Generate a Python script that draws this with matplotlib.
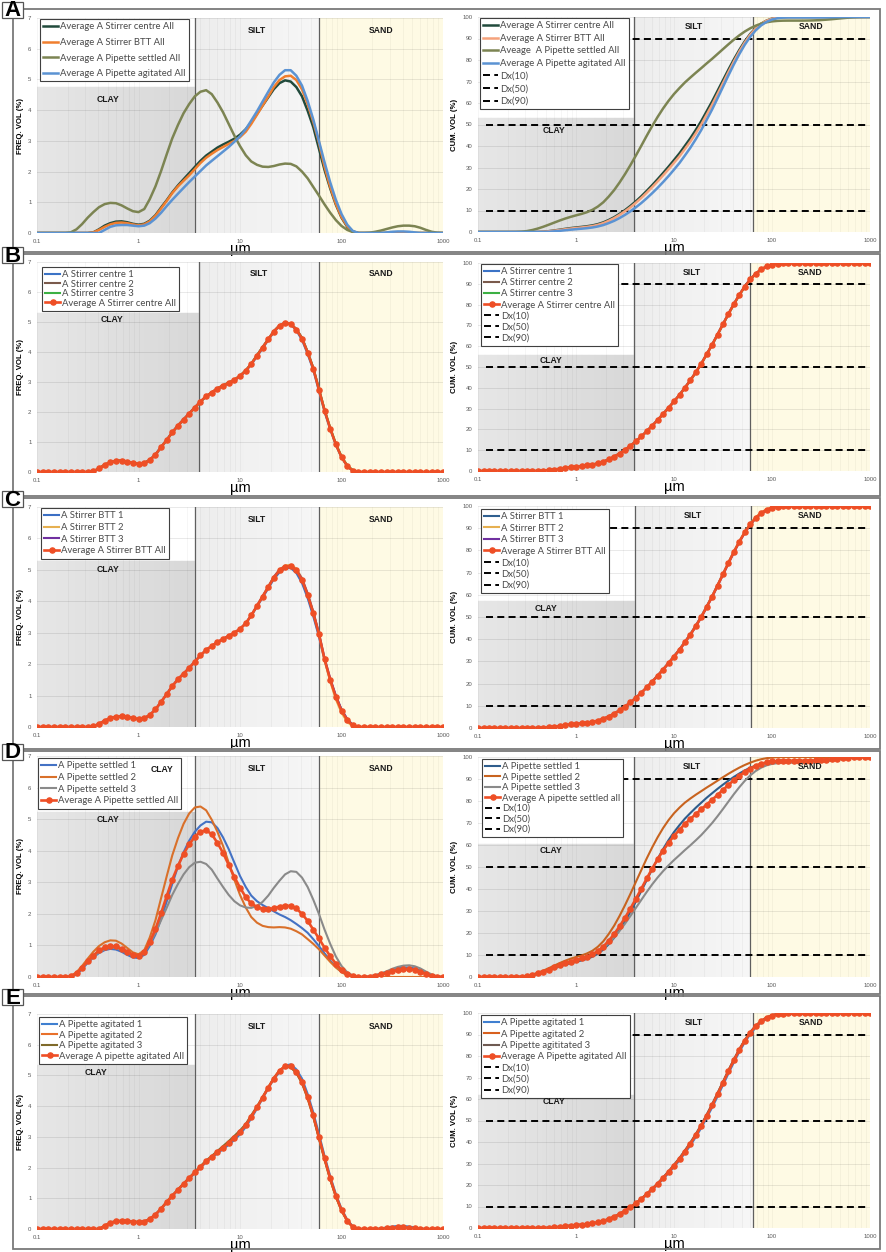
import numpy as np
import matplotlib
matplotlib.use("Agg")
import matplotlib.pyplot as plt
from matplotlib.patches import Rectangle
from matplotlib.ticker import LogLocator, NullFormatter
from matplotlib.colors import to_rgb

W, H = 886, 1252
plt.rcParams['font.family'] = ['Liberation Sans', 'DejaVu Sans']

# particle size bins (um)
size_um = [0.100, 0.114, 0.129, 0.147, 0.167, 0.190, 0.215, 0.245, 0.278, 0.316,
           0.359, 0.408, 0.464, 0.527, 0.599, 0.681, 0.774, 0.880, 1.00, 1.14,
           1.29, 1.47, 1.67, 1.90, 2.15, 2.45, 2.78, 3.16, 3.59, 4.08,
           4.64, 5.27, 5.99, 6.81, 7.74, 8.80, 10.0, 11.4, 12.9, 14.7,
           16.7, 19.0, 21.5, 24.5, 27.8, 31.6, 35.9, 40.8, 46.4, 52.7,
           59.9, 68.1, 77.4, 88.0, 100, 114, 129, 147, 167, 190,
           215, 245, 278, 316, 359, 408, 464, 527, 599, 681,
           774, 880, 1000]
dx_levels = [10, 50, 90]
dx_labels = ["Dx(10)", "Dx(50)", "Dx(90)"]

# frequency volume (%) per bin
stirrer_centre_1 = [0, 0, 0, 0, 0, 0, 0, 0, 0, 0,
                    0.02, 0.11, 0.23, 0.31, 0.36, 0.37, 0.35, 0.30, 0.27, 0.30,
                    0.41, 0.59, 0.84, 1.08, 1.33, 1.56, 1.76, 1.96, 2.16, 2.35,
                    2.51, 2.64, 2.76, 2.86, 2.95, 3.05, 3.18, 3.36, 3.58, 3.85,
                    4.12, 4.40, 4.66, 4.87, 4.97, 4.92, 4.72, 4.40, 3.93, 3.40,
                    2.70, 2.00, 1.42, 0.90, 0.49, 0.19, 0.04, 0, 0, 0,
                    0, 0, 0, 0, 0, 0, 0, 0, 0, 0, 0, 0, 0]
stirrer_centre_2 = [0, 0, 0, 0, 0, 0, 0, 0, 0, 0,
                    0.02, 0.12, 0.24, 0.32, 0.37, 0.38, 0.35, 0.30, 0.27, 0.29,
                    0.39, 0.57, 0.82, 1.06, 1.31, 1.54, 1.74, 1.95, 2.15, 2.35,
                    2.53, 2.66, 2.79, 2.89, 2.98, 3.08, 3.21, 3.39, 3.61, 3.89,
                    4.17, 4.44, 4.70, 4.89, 4.98, 4.94, 4.77, 4.48, 4.01, 3.48,
                    2.78, 2.07, 1.46, 0.92, 0.50, 0.19, 0.04, 0, 0, 0,
                    0, 0, 0, 0, 0, 0, 0, 0, 0, 0, 0, 0, 0]
stirrer_centre_3 = [0, 0, 0, 0, 0, 0, 0, 0, 0, 0,
                    0.02, 0.13, 0.25, 0.33, 0.38, 0.39, 0.35, 0.30, 0.27, 0.31,
                    0.40, 0.58, 0.83, 1.07, 1.32, 1.55, 1.75, 1.94, 2.14, 2.34,
                    2.52, 2.65, 2.79, 2.89, 2.98, 3.08, 3.21, 3.39, 3.61, 3.90,
                    4.16, 4.42, 4.68, 4.88, 4.96, 4.93, 4.76, 4.47, 4.00, 3.47,
                    2.77, 2.08, 1.48, 0.95, 0.53, 0.22, 0.07, 0, 0, 0,
                    0, 0, 0, 0, 0, 0, 0, 0, 0, 0, 0, 0, 0]
stirrer_centre_avg = [0, 0, 0, 0, 0, 0, 0, 0, 0, 0,
                      0.02, 0.12, 0.24, 0.32, 0.37, 0.38, 0.35, 0.30, 0.27, 0.30,
                      0.40, 0.58, 0.83, 1.07, 1.32, 1.55, 1.75, 1.95, 2.15, 2.35,
                      2.52, 2.65, 2.78, 2.88, 2.97, 3.07, 3.20, 3.38, 3.60, 3.88,
                      4.15, 4.42, 4.68, 4.88, 4.97, 4.93, 4.75, 4.45, 3.98, 3.45,
                      2.75, 2.05, 1.45, 0.92, 0.50, 0.20, 0.05, 0, 0, 0,
                      0, 0, 0, 0, 0, 0, 0, 0, 0, 0, 0, 0, 0]

btt_1 = [0, 0, 0, 0, 0, 0, 0, 0, 0, 0,
         0.02, 0.10, 0.20, 0.28, 0.33, 0.34, 0.32, 0.28, 0.25, 0.28,
         0.38, 0.56, 0.80, 1.05, 1.30, 1.52, 1.70, 1.88, 2.08, 2.28,
         2.45, 2.58, 2.70, 2.80, 2.90, 3.00, 3.12, 3.30, 3.54, 3.83,
         4.12, 4.41, 4.70, 4.92, 5.05, 5.06, 4.90, 4.58, 4.10, 3.52,
         2.88, 2.12, 1.50, 0.98, 0.56, 0.25, 0.07, 0, 0, 0,
         0, 0, 0, 0, 0, 0, 0, 0, 0, 0, 0, 0, 0]
btt_2 = [0, 0, 0, 0, 0, 0, 0, 0, 0, 0,
         0.02, 0.10, 0.20, 0.28, 0.33, 0.34, 0.32, 0.28, 0.25, 0.28,
         0.38, 0.56, 0.80, 1.05, 1.30, 1.52, 1.70, 1.88, 2.08, 2.28,
         2.45, 2.58, 2.70, 2.80, 2.90, 3.00, 3.12, 3.30, 3.56, 3.86,
         4.17, 4.48, 4.78, 5.01, 5.14, 5.16, 5.04, 4.74, 4.26, 3.68,
         2.98, 2.14, 1.45, 0.88, 0.45, 0.16, 0.02, 0, 0, 0,
         0, 0, 0, 0, 0, 0, 0, 0, 0, 0, 0, 0, 0]
btt_3 = [0, 0, 0, 0, 0, 0, 0, 0, 0, 0,
         0.02, 0.10, 0.20, 0.28, 0.33, 0.34, 0.32, 0.28, 0.25, 0.28,
         0.38, 0.56, 0.80, 1.05, 1.30, 1.52, 1.70, 1.88, 2.08, 2.28,
         2.45, 2.58, 2.70, 2.80, 2.90, 3.00, 3.12, 3.30, 3.55, 3.86,
         4.16, 4.46, 4.77, 5.00, 5.11, 5.13, 5.00, 4.72, 4.24, 3.66,
         2.99, 2.19, 1.55, 1.00, 0.55, 0.25, 0.06, 0, 0, 0,
         0, 0, 0, 0, 0, 0, 0, 0, 0, 0, 0, 0, 0]
btt_avg = [0, 0, 0, 0, 0, 0, 0, 0, 0, 0,
           0.02, 0.10, 0.20, 0.28, 0.33, 0.34, 0.32, 0.28, 0.25, 0.28,
           0.38, 0.56, 0.80, 1.05, 1.30, 1.52, 1.70, 1.88, 2.08, 2.28,
           2.45, 2.58, 2.70, 2.80, 2.90, 3.00, 3.12, 3.30, 3.55, 3.85,
           4.15, 4.45, 4.75, 4.98, 5.10, 5.12, 4.98, 4.68, 4.20, 3.62,
           2.95, 2.15, 1.50, 0.95, 0.52, 0.22, 0.05, 0, 0, 0,
           0, 0, 0, 0, 0, 0, 0, 0, 0, 0, 0, 0, 0]

settled_1 = [0, 0, 0, 0, 0, 0, 0, 0.08, 0.25, 0.45,
             0.62, 0.76, 0.85, 0.89, 0.87, 0.80, 0.70, 0.62, 0.60, 0.70,
             0.98, 1.35, 1.85, 2.40, 2.95, 3.50, 3.95, 4.32, 4.60, 4.80,
             4.92, 4.90, 4.72, 4.42, 4.05, 3.62, 3.20, 2.85, 2.58, 2.40,
             2.28, 2.18, 2.08, 1.98, 1.90, 1.80, 1.68, 1.55, 1.40, 1.20,
             0.98, 0.75, 0.52, 0.32, 0.16, 0.06, 0.01, 0, 0, 0.02,
             0.05, 0.10, 0.16, 0.22, 0.27, 0.30, 0.30, 0.27, 0.20, 0.12,
             0.05, 0.01, 0]
settled_2 = [0, 0, 0, 0, 0, 0, 0.03, 0.15, 0.35, 0.58,
             0.80, 0.98, 1.10, 1.16, 1.15, 1.06, 0.92, 0.78, 0.72, 0.85,
             1.25, 1.80, 2.50, 3.20, 3.85, 4.40, 4.85, 5.18, 5.37, 5.40,
             5.28, 4.98, 4.60, 4.15, 3.62, 3.08, 2.60, 2.20, 1.90, 1.72,
             1.62, 1.58, 1.57, 1.58, 1.57, 1.53, 1.45, 1.35, 1.20, 1.05,
             0.88, 0.68, 0.48, 0.30, 0.16, 0.06, 0.01, 0, 0, 0,
             0, 0, 0, 0, 0, 0, 0, 0, 0, 0, 0, 0, 0]
settled_3 = [0, 0, 0, 0, 0, 0, 0.02, 0.12, 0.28, 0.47,
             0.64, 0.78, 0.88, 0.93, 0.92, 0.86, 0.76, 0.68, 0.66, 0.76,
             1.05, 1.40, 1.80, 2.20, 2.60, 2.95, 3.25, 3.48, 3.62, 3.65,
             3.58, 3.40, 3.12, 2.85, 2.60, 2.40, 2.27, 2.20, 2.19, 2.25,
             2.38, 2.58, 2.82, 3.05, 3.25, 3.35, 3.33, 3.15, 2.85, 2.45,
             2.00, 1.50, 1.05, 0.65, 0.35, 0.15, 0.05, 0.01, 0, 0.02,
             0.06, 0.11, 0.18, 0.26, 0.32, 0.36, 0.37, 0.34, 0.27, 0.17,
             0.08, 0.02, 0]
settled_avg = [0, 0, 0, 0, 0, 0, 0.02, 0.12, 0.29, 0.50,
               0.68, 0.84, 0.94, 0.98, 0.97, 0.90, 0.80, 0.71, 0.68, 0.78,
               1.10, 1.52, 2.02, 2.57, 3.08, 3.52, 3.90, 4.20, 4.45, 4.60,
               4.65, 4.52, 4.25, 3.93, 3.55, 3.17, 2.83, 2.53, 2.33, 2.22,
               2.16, 2.15, 2.18, 2.23, 2.26, 2.25, 2.17, 2.00, 1.78, 1.50,
               1.22, 0.93, 0.66, 0.42, 0.23, 0.10, 0.03, 0, 0, 0.01,
               0.04, 0.08, 0.13, 0.18, 0.22, 0.24, 0.24, 0.22, 0.17, 0.10,
               0.04, 0.01, 0]

agitated_1 = [0, 0, 0, 0, 0, 0, 0, 0, 0, 0,
              0, 0, 0.09, 0.19, 0.24, 0.25, 0.25, 0.23, 0.21, 0.23,
              0.31, 0.46, 0.65, 0.87, 1.07, 1.27, 1.46, 1.65, 1.82, 2.00,
              2.17, 2.32, 2.46, 2.60, 2.74, 2.90, 3.08, 3.32, 3.60, 3.92,
              4.25, 4.58, 4.88, 5.10, 5.32, 5.36, 5.20, 4.90, 4.40, 3.80,
              3.10, 2.38, 1.72, 1.14, 0.66, 0.30, 0.09, 0, 0, 0,
              0, 0.02, 0.05, 0.08, 0.10, 0.10, 0.08, 0.05, 0.02, 0,
              0, 0, 0]
agitated_2 = [0, 0, 0, 0, 0, 0, 0, 0, 0, 0,
              0, 0, 0.10, 0.20, 0.25, 0.26, 0.26, 0.24, 0.22, 0.24,
              0.32, 0.47, 0.66, 0.88, 1.08, 1.28, 1.47, 1.66, 1.84, 2.02,
              2.20, 2.35, 2.50, 2.65, 2.80, 2.97, 3.15, 3.38, 3.66, 3.96,
              4.28, 4.60, 4.92, 5.17, 5.30, 5.28, 5.08, 4.74, 4.24, 3.64,
              2.95, 2.26, 1.62, 1.05, 0.60, 0.25, 0.06, 0, 0, 0,
              0, 0, 0.01, 0.02, 0.03, 0.03, 0.02, 0.01, 0, 0,
              0, 0, 0]
agitated_3 = [0, 0, 0, 0, 0, 0, 0, 0, 0, 0,
              0, 0, 0.11, 0.21, 0.26, 0.27, 0.27, 0.25, 0.23, 0.25,
              0.33, 0.48, 0.67, 0.89, 1.09, 1.29, 1.48, 1.67, 1.86, 2.05,
              2.23, 2.38, 2.54, 2.70, 2.86, 3.03, 3.21, 3.42, 3.70, 3.99,
              4.30, 4.62, 4.90, 5.16, 5.28, 5.26, 5.08, 4.76, 4.26, 3.66,
              2.95, 2.26, 1.61, 1.05, 0.60, 0.26, 0.06, 0, 0, 0,
              0, 0, 0.01, 0.02, 0.02, 0.02, 0.02, 0.01, 0, 0,
              0, 0, 0]
agitated_avg = [0, 0, 0, 0, 0, 0, 0, 0, 0, 0,
                0, 0, 0.10, 0.20, 0.25, 0.26, 0.26, 0.24, 0.22, 0.24,
                0.32, 0.47, 0.66, 0.88, 1.08, 1.28, 1.47, 1.66, 1.84, 2.02,
                2.20, 2.35, 2.50, 2.65, 2.80, 2.97, 3.15, 3.38, 3.66, 3.96,
                4.28, 4.60, 4.90, 5.15, 5.30, 5.30, 5.12, 4.80, 4.30, 3.70,
                3.00, 2.30, 1.65, 1.08, 0.62, 0.27, 0.07, 0, 0, 0,
                0, 0, 0.02, 0.04, 0.05, 0.05, 0.04, 0.02, 0, 0,
                0, 0, 0]

AVG_RED = '#ee4e25'


def cum_vol(freq):
    # cumulative undersize, % of total volume
    f = np.array(freq, dtype=float)
    c = np.concatenate([[0.0], np.cumsum(f)[:-1]])
    return c / f.sum() * 100


def frac(x0, y0, x1, y1):
    return [x0 / W, 1 - y1 / H, (x1 - x0) / W, (y1 - y0) / H]


def shade(ax, lo, hi, c0, c1, top, n=24):
    edges = np.logspace(np.log10(lo), np.log10(hi), n + 1)
    a, b = np.array(to_rgb(c0)), np.array(to_rgb(c1))
    for i in range(n):
        c = a + (b - a) * i / (n - 1)
        ax.axvspan(edges[i], edges[i + 1], ymin=0, ymax=top, facecolor=c,
                   edgecolor=c, lw=0.3, zorder=0.1)


def base(ax, right, clay_edge, sand_edge, clay_top, clay_xy):
    ymax = 100 if right else 7
    ax.set_xscale('log')
    ax.set_xlim(0.1, 1000)
    ax.set_ylim(0, ymax)
    shade(ax, 0.1, clay_edge, '#e6e6e6', '#d8d8d8', clay_top / ymax)
    shade(ax, clay_edge, sand_edge, '#ededed', '#f6f6f6', 1)
    ax.axvspan(sand_edge, 1000, facecolor='#fefae4', edgecolor='none', zorder=0.1)
    for e in (clay_edge, sand_edge):
        ax.axvline(e, color='#5f5f5f', lw=0.9, zorder=1.5)
    ax.set_axisbelow(True)
    ax.xaxis.set_minor_locator(LogLocator(base=10, subs=np.arange(2, 10)))
    ax.xaxis.set_minor_formatter(NullFormatter())
    ax.grid(which='major', axis='y', color='black', alpha=0.10, lw=0.6)
    ax.grid(which='both', axis='x', color='black', alpha=0.055, lw=0.45)
    ax.set_xticks([0.1, 1, 10, 100, 1000])
    ax.set_xticklabels(['0.1', '1', '10', '100', '1000'])
    ax.set_yticks(np.arange(0, ymax + 1, 10 if right else 1))
    ax.tick_params(which='both', length=0, labelsize=4.3, labelcolor='#595959', pad=4)
    for s in ax.spines.values():
        s.set_visible(False)
    tk = dict(ha='center', va='center', fontsize=6.2, fontweight='bold', color='#1a1a1a', zorder=6)
    top_y = 95.5 if right else 6.6
    ax.text(np.sqrt(clay_edge * sand_edge), top_y, 'SILT', **tk)
    ax.text(np.sqrt(sand_edge * 1000), top_y, 'SAND', **tk)
    ax.text(clay_xy[0], clay_xy[1], 'CLAY', **tk)
    ax.set_ylabel('CUM. VOL (%)' if right else 'FREQ. VOL (%)', fontsize=5.6,
                  fontweight='bold', labelpad=3)
    ax.set_xlabel('µm', fontsize=10.5, labelpad=-1)


def legend(fig, ax, x, y, spacing):
    leg = ax.legend(loc='upper left', bbox_to_anchor=(x / W, 1 - y / H),
                    bbox_transform=fig.transFigure, borderaxespad=0,
                    prop=dict(family='Lato', size=6.8), labelcolor='#4a4a4a',
                    frameon=True, fancybox=False, framealpha=1, edgecolor='#404040',
                    handlelength=1.6, handletextpad=0.15, labelspacing=spacing,
                    borderpad=0.35, numpoints=1)
    leg.get_frame().set_linewidth(0.8)
    leg.set_zorder(5)
    return leg


rows = [
    dict(letter='A', top=9, bottom=252, ly=(18, 233), ry=(17, 232),
         lclay=(3.6, 60, 4.75, (0.5, 4.35)), rclay=(3.95, 64, 52.8, (0.6, 47)),
         lleg=(40, 19, 0.7), rleg=(480, 18, 0.38)),
    dict(letter='B', top=254, bottom=496, ly=(262, 472), ry=(263, 471),
         lclay=(3.95, 60, 5.3, (0.55, 5.1)), rclay=(3.95, 59, 56, (0.55, 53)),
         lleg=(42, 267, 0.05), rleg=(481, 264, 0.22)),
    dict(letter='C', top=498, bottom=749, ly=(507, 727), ry=(506, 728),
         lclay=(3.6, 60, 5.27, (0.5, 5.0)), rclay=(4.0, 61, 57, (0.5, 54)),
         lleg=(41, 508, 0.28), rleg=(481, 509, 0.26)),
    dict(letter='D', top=751, bottom=994, ly=(756, 977), ry=(757, 977),
         lclay=(3.6, 60, 5.24, (0.5, 5.0)), rclay=(3.95, 59, 60.6, (0.56, 57.5)),
         lleg=(38, 758, 0.28), rleg=(482, 759, 0.15)),
    dict(letter='E', top=996, bottom=1249, ly=(1014, 1229), ry=(1013, 1228),
         lclay=(3.6, 60, 5.35, (0.38, 5.1)), rclay=(3.95, 64, 61.8, (0.6, 59)),
         lleg=(39, 1017, 0.15), rleg=(481, 1015, 0.24)),
]

# series per row: (values, left label, right label, left colour, right colour)
series = {
    'A': [(stirrer_centre_avg, 'Average A Stirrer centre All', 'Average A Stirrer centre All', '#214a3c', '#214a3c'),
          (btt_avg, 'Average A Stirrer BTT All', 'Average A Stirrer BTT All', '#f07e2e', '#f5a27c'),
          (settled_avg, 'Average A Pipette settled All', 'Aveage  A Pipette settled All', '#7c8452', '#7c8452'),
          (agitated_avg, 'Average A Pipette agitated All', 'Average A Pipette agitated All', '#5b93d3', '#5b93d3')],
    'B': [(stirrer_centre_1, 'A Stirrer centre 1', 'A Stirrer centre 1', '#3b73c6', '#3b73c6'),
          (stirrer_centre_2, 'A Stirrer centre 2', 'A Stirrer centre 2', '#7a5a4c', '#7a5a4c'),
          (stirrer_centre_3, 'A Stirrer centre 3', 'A Stirrer centre 3', '#3cb043', '#3cb043'),
          (stirrer_centre_avg, 'Average A Stirrer centre All', 'Average A Stirrer centre All', AVG_RED, AVG_RED)],
    'C': [(btt_1, 'A Stirrer BTT 1', 'A Stirrer BTT 1', '#3b6fc4', '#2f5f8f'),
          (btt_2, 'A Stirrer BTT 2', 'A Stirrer BTT 2', '#e6b050', '#e6b050'),
          (btt_3, 'A Stirrer BTT 3', 'A Stirrer BTT 3', '#7030a0', '#7030a0'),
          (btt_avg, 'Average A Stirrer BTT All', 'Average A Stirrer BTT All', AVG_RED, AVG_RED)],
    'D': [(settled_1, 'A Pipette settled 1', 'A Pipette settled 1', '#4472c4', '#2f5d8c'),
          (settled_2, 'A Pipette settled 2', 'A Pipette settled 2', '#d9702a', '#c8631f'),
          (settled_3, 'A Pipette setteld 3', 'A Pipette settled 3', '#8a8a8a', '#8a8a8a'),
          (settled_avg, 'Average A Pipette settled All', 'Average A pipette settled all', AVG_RED, AVG_RED)],
    'E': [(agitated_1, 'A Pipette agitated 1', 'A Pipette agitated 1', '#3f7fd0', '#3f7fd0'),
          (agitated_2, 'A Pipette agitated 2', 'A Pipette agitated 2', '#e8702a', '#d8601e'),
          (agitated_3, 'A Pipette agitated 3', 'A Pipette agititated 3', '#7f6a2a', '#6e5a52'),
          (agitated_avg, 'Average A pipette agitated All', 'Average A Pipette agitated All', AVG_RED, AVG_RED)],
}

fig = plt.figure(figsize=(W / 100, H / 100), dpi=100)
fig.patch.set_facecolor('white')

for row in rows:
    L = row['letter']
    axl = fig.add_axes(frac(37, row['ly'][0], 443, row['ly'][1]))
    axr = fig.add_axes(frac(478, row['ry'][0], 870, row['ry'][1]))
    ce, se, ct, cxy = row['lclay']
    base(axl, False, ce, se, ct, cxy)
    ce, se, ct, cxy = row['rclay']
    base(axr, True, ce, se, ct, cxy)

    for vals, lab_l, lab_r, col_l, col_r in series[L]:
        is_avg = L != 'A' and vals is series[L][3][0]
        kw = dict(lw=1.8, zorder=3)
        if is_avg:
            kw.update(marker='o', ms=3.7, mec=AVG_RED, mfc=AVG_RED, lw=1.9, zorder=4)
        elif L != 'A':
            kw.update(lw=1.5)
        axl.plot(size_um, vals, color=col_l, label=lab_l, **kw)
        axr.plot(size_um, cum_vol(vals), color=col_r, label=lab_r, **kw)

    for lvl, lab in zip(dx_levels, dx_labels):
        axr.axhline(lvl, xmin=0.02, xmax=0.99, color='black', lw=1.4,
                    dashes=(3.6, 2.2), label=lab, zorder=2)

    legend(fig, axl, *row['lleg'])
    legend(fig, axr, *row['rleg'])

    if L == 'D':
        axl.axvspan(3.4, 3.6, ymin=3 / 7, ymax=5.24 / 7, facecolor='#c8c8c8',
                    edgecolor='none', zorder=0.2)
        axl.text(1.69, 6.57, 'CLAY', ha='center', va='center', fontsize=6.2,
                 fontweight='bold', color='#1a1a1a', zorder=7)

    # row frame and panel letter
    fig.add_artist(Rectangle((13 / W, 1 - row['bottom'] / H), (880 - 13) / W,
                             (row['bottom'] - row['top']) / H, transform=fig.transFigure,
                             fill=False, edgecolor='#7a7a7a', lw=1.3))
    cy = row['top'] + 1
    fig.add_artist(Rectangle((2 / W, 1 - (cy + 8) / H), 21 / W, 16 / H,
                             transform=fig.transFigure, facecolor='white',
                             edgecolor='#555555', lw=0.9, zorder=10))
    fig.text(12.5 / W, 1 - (cy + 1) / H, L, ha='center', va='center', fontsize=16,
             fontweight='bold', color='black', zorder=11)

fig.savefig('out.png', dpi=100)
